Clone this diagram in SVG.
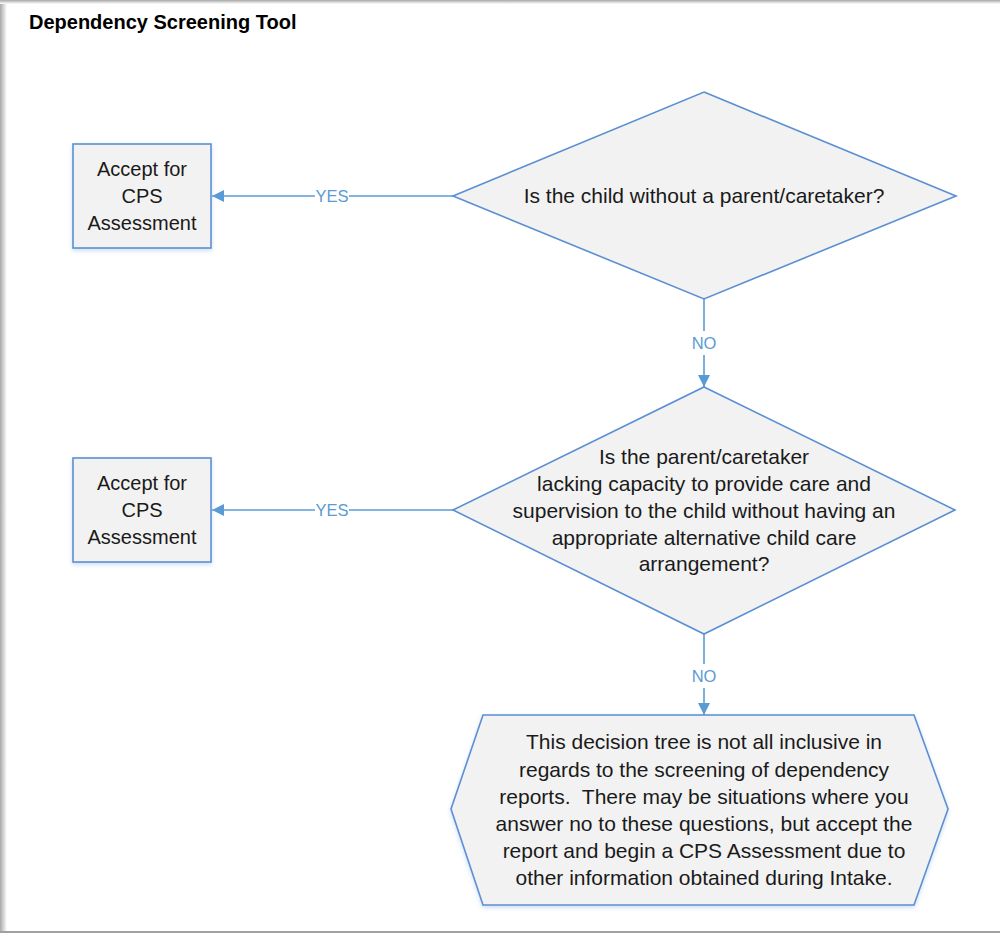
<svg xmlns="http://www.w3.org/2000/svg" width="1000" height="933" viewBox="0 0 1000 933">
  <defs>
    <linearGradient id="shL" x1="0" y1="0" x2="1" y2="0">
      <stop offset="0" stop-color="#a8a8a8"/>
      <stop offset="1" stop-color="#ffffff"/>
    </linearGradient>
    <linearGradient id="shT" x1="0" y1="0" x2="0" y2="1">
      <stop offset="0" stop-color="#a8a8a8"/>
      <stop offset="1" stop-color="#ffffff"/>
    </linearGradient>
    <marker id="arr" viewBox="0 0 12 12" refX="12" refY="6" markerWidth="12" markerHeight="12" markerUnits="userSpaceOnUse" orient="auto">
      <path d="M0,0 L12,6 L0,12 z" fill="#5b9bd5"/>
    </marker>
    <filter id="glow" x="-5%" y="-5%" width="110%" height="115%">
      <feDropShadow dx="0" dy="2" stdDeviation="2" flood-color="#9dbde8" flood-opacity="0.5"/>
    </filter>
  </defs>
  <style>
    .shape { fill: #f2f2f2; stroke: #5b8fd3; stroke-width: 1.6; }
    .txt { font-family: "Liberation Sans", Arial, sans-serif; font-size: 21px; fill: #1a1a1a; text-anchor: middle; }
    .box { font-size: 20px; }
    .lbl { font-family: "Liberation Sans", Arial, sans-serif; font-size: 16.5px; fill: #5b9bd5; text-anchor: middle; }
    .conn { stroke: #5b9bd5; stroke-width: 1.6; fill: none; }
  </style>
  <rect x="0" y="0" width="1000" height="933" fill="#ffffff"/>
  <rect x="0" y="0" width="7" height="933" fill="url(#shL)"/>
  <rect x="0" y="0" width="1000" height="4" fill="url(#shT)"/>
  <rect x="0" y="931" width="1000" height="2" fill="#a0a0a0"/>

  <text x="29" y="29" font-family="Liberation Sans, Arial, sans-serif" font-weight="bold" font-size="20" fill="#000">Dependency Screening Tool</text>

  <g id="connectors">
    <line class="conn" x1="453" y1="196" x2="212" y2="196" marker-end="url(#arr)"/>
    <rect x="315" y="186" width="34" height="20" fill="#fff"/>
    <text class="lbl" x="332" y="202">YES</text>
    <line class="conn" x1="453" y1="510" x2="212" y2="510" marker-end="url(#arr)"/>
    <rect x="315" y="500" width="34" height="20" fill="#fff"/>
    <text class="lbl" x="332" y="516">YES</text>
    <line class="conn" x1="704" y1="299" x2="704" y2="387" marker-end="url(#arr)"/>
    <rect x="688" y="331" width="32" height="24" fill="#fff"/>
    <text class="lbl" x="704" y="349">NO</text>
    <line class="conn" x1="704" y1="634" x2="704" y2="715" marker-end="url(#arr)"/>
    <rect x="688" y="664" width="32" height="24" fill="#fff"/>
    <text class="lbl" x="704" y="682">NO</text>
  </g>

  <g id="accept1">
    <rect class="shape" x="73" y="144" width="138" height="104" filter="url(#glow)"/>
    <text class="txt box" x="142" y="176">Accept for</text>
    <text class="txt box" x="142" y="203">CPS</text>
    <text class="txt box" x="142" y="230">Assessment</text>
  </g>

  <g id="accept2">
    <rect class="shape" x="73" y="458" width="138" height="104" filter="url(#glow)"/>
    <text class="txt box" x="142" y="490">Accept for</text>
    <text class="txt box" x="142" y="517">CPS</text>
    <text class="txt box" x="142" y="544">Assessment</text>
  </g>

  <g id="question1">
    <polygon class="shape" points="704,92 956,196 704,299 453,196"/>
    <text class="txt" x="704" y="203">Is the child without a parent/caretaker?</text>
  </g>

  <g id="question2">
    <polygon class="shape" points="704,387 955,510 704,634 453,510"/>
    <text class="txt" x="704" y="464">Is the parent/caretaker</text>
    <text class="txt" x="704" y="491">lacking capacity to provide care and</text>
    <text class="txt" x="704" y="518">supervision to the child without having an</text>
    <text class="txt" x="704" y="545">appropriate alternative child care</text>
    <text class="txt" x="704" y="571">arrangement?</text>
  </g>

  <g id="note">
    <polygon class="shape" points="483,715 914,715 948,809 914,905 483,905 451,809" filter="url(#glow)"/>
    <text class="txt" x="704" y="749">This decision tree is not all inclusive in</text>
    <text class="txt" x="704" y="777">regards to the screening of dependency</text>
    <text class="txt" x="704" y="804">reports.&#160; There may be situations where you</text>
    <text class="txt" x="704" y="831">answer no to these questions, but accept the</text>
    <text class="txt" x="704" y="858">report and begin a CPS Assessment due to</text>
    <text class="txt" x="704" y="885">other information obtained during Intake.</text>
  </g>
</svg>
